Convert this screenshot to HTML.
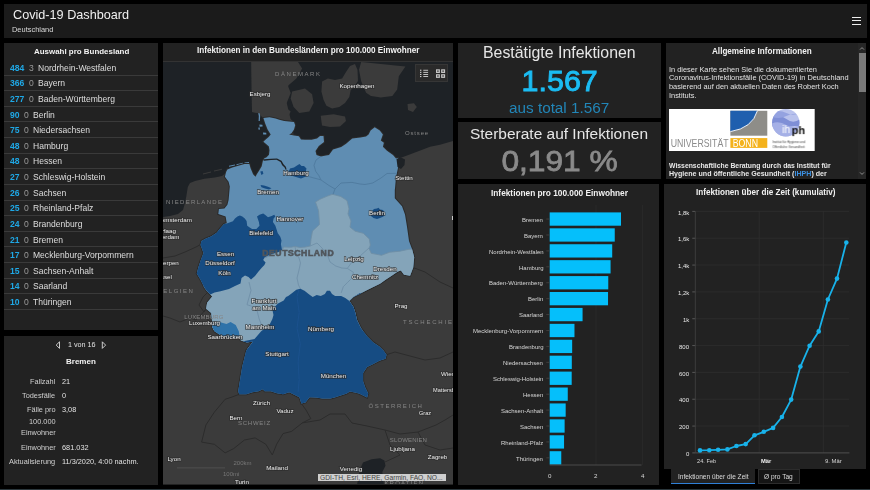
<!DOCTYPE html>
<html><head><meta charset="utf-8">
<style>
*{margin:0;padding:0;box-sizing:border-box}
html,body{width:870px;height:490px;overflow:hidden;background:#000;font-family:"Liberation Sans",Arial,sans-serif;color:#ddd;position:relative}
.p{position:absolute;background:#222}
svg{will-change:transform}
.t{position:absolute;white-space:nowrap;line-height:1;will-change:transform}
</style></head><body>
<div class="p" style="left:4px;top:4px;width:862.5px;height:33.8px;background:#1b1b1b"></div>
<div style="position:absolute;left:851.8px;top:16.6px;width:9.2px;height:1.25px;background:#eee"></div>
<div style="position:absolute;left:851.8px;top:20.2px;width:9.2px;height:1.25px;background:#eee"></div>
<div style="position:absolute;left:851.8px;top:23.9px;width:9.2px;height:1.25px;background:#eee"></div>
<div class="p" style="left:4px;top:43px;width:154px;height:287.4px"></div>
<div class="p" style="left:4px;top:335.5px;width:154px;height:149.5px"></div>
<div class="p" style="left:163px;top:43px;width:290.3px;height:441.5px"></div>
<div style="position:absolute;left:163px;top:61px;width:290.3px;height:1px;background:#333"></div>
<div class="p" style="left:458px;top:43px;width:203px;height:74.6px"></div>
<div class="p" style="left:458px;top:122px;width:203px;height:56.5px"></div>
<div class="p" style="left:666px;top:43px;width:200px;height:135.5px"></div>
<div class="p" style="left:458px;top:184px;width:201px;height:300.7px"></div>
<div class="p" style="left:664px;top:184px;width:202px;height:285.3px"></div>
<svg id="mapsvg" width="290" height="422" viewBox="163 62 290 422" style="position:absolute;left:163px;top:62px">
<defs><clipPath id="de"><polygon points="263.4,117.9 269.5,117.2 275.6,118.5 279.3,119.7 284.2,120.9 289.1,121.5 294.0,122.1 295.2,125.2 294.0,129.5 291.5,133.2 289.1,134.4 294.0,135.6 298.9,136.2 301.0,139.5 305.0,139.8 311.6,139.8 317.0,138.5 320.0,136.0 323.5,136.0 324.0,142.0 318.8,145.9 315.5,151.0 316.5,155.0 320.8,156.5 326.0,155.5 329.0,155.0 333.0,149.5 341.2,147.0 346.1,143.7 352.2,138.6 360.4,137.6 366.0,136.5 368.6,134.5 370.6,130.4 374.7,127.3 379.8,130.4 382.9,134.5 380.8,140.6 383.9,142.7 382.9,146.7 387.0,150.8 393.0,154.9 396.0,158.5 398.2,158.0 398.2,167.0 396.0,177.3 395.1,187.6 394.8,190.0 394.8,198.2 402.0,206.3 405.0,214.5 407.0,226.7 409.0,241.0 412.1,249.2 414.2,257.3 413.2,267.6 410.1,275.7 404.0,274.7 400.9,270.6 397.9,271.6 391.7,275.7 385.6,279.8 380.0,283.7 375.9,285.7 371.8,287.8 365.7,290.8 359.6,293.9 353.5,296.9 349.4,301.0 353.5,307.1 355.5,313.3 357.0,320.0 361.0,328.2 367.1,336.3 373.3,342.4 379.4,346.5 383.5,350.6 386.5,354.7 385.5,358.8 379.4,360.8 373.3,363.9 367.1,366.9 363.1,373.1 363.1,381.2 365.1,387.3 368.2,393.5 367.1,397.6 363.1,395.5 359.0,393.5 354.9,392.4 349.8,391.4 346.7,393.5 340.6,395.5 334.5,397.6 330.4,398.6 322.2,398.6 316.1,397.6 309.6,397.3 305.5,402.4 301.4,403.5 299.4,397.3 295.3,395.3 289.2,392.2 283.1,394.3 276.9,393.3 270.8,391.2 264.7,391.2 262.7,389.2 258.6,391.2 252.4,392.2 246.3,394.3 239.2,394.3 238.2,391.2 240.2,379.0 242.2,366.7 244.3,358.6 246.3,350.4 252.4,342.2 254.5,339.0 253.1,341.4 246.9,342.4 240.8,340.4 239.8,337.3 234.7,338.4 226.5,337.3 220.4,335.3 214.3,331.2 212.2,327.1 212.2,323.0 211.2,312.9 206.1,308.8 207.1,302.7 212.2,296.5 210.4,294.5 206.5,290.5 204.5,287.8 200.4,279.6 196.8,273.5 198.4,267.3 200.4,261.2 203.5,253.1 200.6,245.0 201.4,241.0 206.0,238.5 211.0,236.5 216.7,232.7 220.5,228.0 224.0,224.0 226.8,223.2 225.6,216.4 218.3,214.0 218.9,209.1 224.4,208.5 227.4,204.8 228.6,200.0 229.8,186.6 228.6,181.7 224.9,176.8 226.1,171.9 227.4,169.4 232.3,167.6 238.4,165.7 244.5,163.9 249.4,163.9 250.6,168.2 253.1,174.3 255.5,176.8 256.8,174.3 259.2,170.6 261.7,166.3 262.9,160.8 264.1,158.4 266.6,157.2 269.0,154.7 269.5,150.3 268.9,146.6 266.4,144.2 263.4,141.7 264.6,140.5 268.9,136.8 270.7,134.4 267.6,129.5 265.2,123.4"/></clipPath></defs>
<rect x="163" y="62" width="290" height="422" fill="#3b3b3b"/>
<polygon points="163.0,62.0 251.4,62.0 252.0,112.0 258.0,113.0 263.4,117.9 265.2,123.4 267.6,129.5 270.7,134.4 268.9,136.8 264.6,140.5 263.4,141.7 266.4,144.2 268.9,146.6 269.5,150.3 269.0,154.7 266.6,157.2 264.1,158.4 262.9,160.8 261.7,166.3 259.2,170.6 256.8,174.3 255.5,176.8 253.1,174.3 250.6,168.2 249.4,163.9 244.5,163.9 238.4,165.7 232.3,167.6 227.4,169.4 226.5,172.5 222.0,176.0 214.8,177.6 204.4,178.7 195.0,181.0 190.0,183.0 187.8,187.0 187.0,192.0 186.3,196.5 185.0,203.0 183.0,210.0 178.0,214.0 170.0,216.0 163.0,217.0" fill="#1e2226"/>
<polygon points="292.0,62.0 453.0,62.0 453.0,141.0 440.0,144.7 430.0,146.7 421.6,150.0 411.0,154.0 403.0,157.0 398.2,158.5 390.0,175.0 300.0,175.0 292.0,125.0 286.0,100.0" fill="#1e2226"/>
<polygon points="357.0,485.0 359.8,470.0 363.0,462.5 371.6,459.3 380.1,458.2 384.4,460.4 385.5,465.7 382.3,472.1 384.0,485.0" fill="#1e2226"/>
<polygon points="251.4,62.0 298.0,62.0 302.1,68.6 296.4,78.6 287.9,85.7 290.7,92.9 287.9,100.0 285.0,107.1 290.7,111.4 288.0,117.0 294.0,122.1 263.4,117.9 258.0,113.0 252.0,112.0" fill="#3b3b3b"/>
<polygon points="292.1,91.4 305.0,88.6 312.1,94.3 313.6,102.9 309.3,111.4 299.3,112.9 293.6,107.1 290.7,98.6" fill="#3b3b3b"/>
<polygon points="321.4,91.4 322.1,81.4 327.9,78.6 335.0,80.0 342.1,78.6 346.0,72.0 350.0,66.0 355.0,64.0 357.5,70.0 358.0,81.0 353.0,88.0 350.7,90.0 349.3,97.1 345.0,102.9 339.3,107.1 332.1,108.6 326.4,105.7 323.6,100.0" fill="#3b3b3b"/>
<polygon points="320.7,115.7 333.6,114.3 345.0,116.5 346.0,121.0 340.0,126.5 330.0,127.0 322.0,125.5" fill="#3b3b3b"/>
<polygon points="361.2,62.0 405.4,66.5 398.8,76.3 397.2,89.4 392.3,95.9 380.8,97.6 371.0,95.9 366.1,92.7 361.2,81.2 359.0,69.8" fill="#3b3b3b"/>
<polygon points="407.5,104.0 414.0,103.3 416.8,107.0 413.0,112.0 408.0,110.0" fill="#3b3b3b"/>
<polygon points="258.2,113.2 259.6,113.2 260.2,116.0 259.8,121.0 258.6,121.0 258.8,116.0" fill="#5f8db2"/>
<polygon points="259.4,124.6 262.4,124.8 262.6,126.6 259.6,126.8" fill="#5f8db2"/>
<polygon points="258.4,127.4 259.8,127.4 259.8,129.8 258.4,129.6" fill="#5f8db2"/>
<polygon points="263.0,132.6 266.2,132.8 266.4,134.6 263.2,134.6" fill="#5f8db2"/>
<polygon points="229.0,165.8 235.0,164.6 235.0,165.6 229.0,166.8" fill="#5f8db2"/>
<polygon points="236.5,164.2 243.0,162.8 243.0,163.8 236.5,165.2" fill="#5f8db2"/>
<polygon points="244.5,162.4 249.0,162.0 249.0,163.0 244.5,163.4" fill="#5f8db2"/>
<polygon points="214.0,170.6 222.0,168.8 222.0,169.8 214.0,171.6" fill="#3b3b3b"/>
<polygon points="203.0,173.5 211.0,171.5 211.0,172.5 203.0,174.5" fill="#3b3b3b"/>
<polyline points="163.0,258.0 175.0,256.0 185.0,252.0 196.0,247.0 201.5,244.0" fill="none" stroke="#2c2c2c" stroke-width="1"/>
<polyline points="208.0,292.0 203.0,297.0 199.0,305.0 204.0,312.0 206.1,308.8" fill="none" stroke="#2c2c2c" stroke-width="1"/>
<polyline points="206.0,309.0 200.0,316.0 196.0,320.0 190.0,318.0 180.0,322.0 170.0,318.0 163.0,316.0" fill="none" stroke="#2c2c2c" stroke-width="1"/>
<polyline points="212.2,323.0 208.0,320.0 204.0,315.0" fill="none" stroke="#2c2c2c" stroke-width="1"/>
<polyline points="239.2,394.3 232.0,397.0 225.1,399.3 214.4,412.1 205.9,425.0 201.6,442.1 214.4,444.3 225.1,452.9 233.7,448.6 244.4,440.0 255.1,437.9 265.9,444.3 272.3,455.0 276.6,444.3 283.0,433.6 291.6,431.4 302.3,422.9 310.8,418.6 306.0,410.0 301.4,403.5" fill="none" stroke="#2c2c2c" stroke-width="1"/>
<polyline points="302.3,422.9 320.0,420.0 330.0,414.0 345.0,414.0 352.0,423.0 367.0,426.0 385.0,430.0 400.0,434.0 418.0,432.0 436.0,425.0 445.0,420.0 453.0,415.0" fill="none" stroke="#2c2c2c" stroke-width="1"/>
<polyline points="385.0,430.0 390.0,445.0 400.0,455.0 385.0,462.0" fill="none" stroke="#2c2c2c" stroke-width="1"/>
<polyline points="418.0,432.0 425.0,445.0 440.0,450.0 453.0,448.0" fill="none" stroke="#2c2c2c" stroke-width="1"/>
<polyline points="386.5,354.7 395.0,352.0 410.0,356.0 425.0,360.0 440.0,358.0 453.0,352.0" fill="none" stroke="#2c2c2c" stroke-width="1"/>
<polyline points="413.2,267.6 425.0,272.0 440.0,282.0 453.0,288.0" fill="none" stroke="#2c2c2c" stroke-width="1"/>
<polygon points="263.4,117.9 269.5,117.2 275.6,118.5 279.3,119.7 284.2,120.9 289.1,121.5 294.0,122.1 295.2,125.2 294.0,129.5 291.5,133.2 289.1,134.4 294.0,135.6 298.9,136.2 301.0,139.5 305.0,139.8 311.6,139.8 317.0,138.5 320.0,136.0 323.5,136.0 324.0,142.0 318.8,145.9 315.5,151.0 316.5,155.0 320.8,156.5 326.0,155.5 329.0,155.0 333.0,149.5 341.2,147.0 346.1,143.7 352.2,138.6 360.4,137.6 366.0,136.5 368.6,134.5 370.6,130.4 374.7,127.3 379.8,130.4 382.9,134.5 380.8,140.6 383.9,142.7 382.9,146.7 387.0,150.8 393.0,154.9 396.0,158.5 398.2,158.0 398.2,167.0 396.0,177.3 395.1,187.6 394.8,190.0 394.8,198.2 402.0,206.3 405.0,214.5 407.0,226.7 409.0,241.0 412.1,249.2 414.2,257.3 413.2,267.6 410.1,275.7 404.0,274.7 400.9,270.6 397.9,271.6 391.7,275.7 385.6,279.8 380.0,283.7 375.9,285.7 371.8,287.8 365.7,290.8 359.6,293.9 353.5,296.9 349.4,301.0 353.5,307.1 355.5,313.3 357.0,320.0 361.0,328.2 367.1,336.3 373.3,342.4 379.4,346.5 383.5,350.6 386.5,354.7 385.5,358.8 379.4,360.8 373.3,363.9 367.1,366.9 363.1,373.1 363.1,381.2 365.1,387.3 368.2,393.5 367.1,397.6 363.1,395.5 359.0,393.5 354.9,392.4 349.8,391.4 346.7,393.5 340.6,395.5 334.5,397.6 330.4,398.6 322.2,398.6 316.1,397.6 309.6,397.3 305.5,402.4 301.4,403.5 299.4,397.3 295.3,395.3 289.2,392.2 283.1,394.3 276.9,393.3 270.8,391.2 264.7,391.2 262.7,389.2 258.6,391.2 252.4,392.2 246.3,394.3 239.2,394.3 238.2,391.2 240.2,379.0 242.2,366.7 244.3,358.6 246.3,350.4 252.4,342.2 254.5,339.0 253.1,341.4 246.9,342.4 240.8,340.4 239.8,337.3 234.7,338.4 226.5,337.3 220.4,335.3 214.3,331.2 212.2,327.1 212.2,323.0 211.2,312.9 206.1,308.8 207.1,302.7 212.2,296.5 210.4,294.5 206.5,290.5 204.5,287.8 200.4,279.6 196.8,273.5 198.4,267.3 200.4,261.2 203.5,253.1 200.6,245.0 201.4,241.0 206.0,238.5 211.0,236.5 216.7,232.7 220.5,228.0 224.0,224.0 226.8,223.2 225.6,216.4 218.3,214.0 218.9,209.1 224.4,208.5 227.4,204.8 228.6,200.0 229.8,186.6 228.6,181.7 224.9,176.8 226.1,171.9 227.4,169.4 232.3,167.6 238.4,165.7 244.5,163.9 249.4,163.9 250.6,168.2 253.1,174.3 255.5,176.8 256.8,174.3 259.2,170.6 261.7,166.3 262.9,160.8 264.1,158.4 266.6,157.2 269.0,154.7 269.5,150.3 268.9,146.6 266.4,144.2 263.4,141.7 264.6,140.5 268.9,136.8 270.7,134.4 267.6,129.5 265.2,123.4" fill="none" stroke="#2b2b2b" stroke-width="2"/>
<polygon points="263.4,117.9 269.5,117.2 275.6,118.5 279.3,119.7 284.2,120.9 289.1,121.5 294.0,122.1 295.2,125.2 294.0,129.5 291.5,133.2 289.1,134.4 294.0,135.6 298.9,136.2 301.0,139.5 305.0,139.8 311.6,139.8 317.0,138.5 320.0,136.0 323.5,136.0 324.0,142.0 318.8,145.9 315.5,151.0 316.5,155.0 320.8,156.5 326.0,155.5 329.0,155.0 333.0,149.5 341.2,147.0 346.1,143.7 352.2,138.6 360.4,137.6 366.0,136.5 368.6,134.5 370.6,130.4 374.7,127.3 379.8,130.4 382.9,134.5 380.8,140.6 383.9,142.7 382.9,146.7 387.0,150.8 393.0,154.9 396.0,158.5 398.2,158.0 398.2,167.0 396.0,177.3 395.1,187.6 394.8,190.0 394.8,198.2 402.0,206.3 405.0,214.5 407.0,226.7 409.0,241.0 412.1,249.2 414.2,257.3 413.2,267.6 410.1,275.7 404.0,274.7 400.9,270.6 397.9,271.6 391.7,275.7 385.6,279.8 380.0,283.7 375.9,285.7 371.8,287.8 365.7,290.8 359.6,293.9 353.5,296.9 349.4,301.0 353.5,307.1 355.5,313.3 357.0,320.0 361.0,328.2 367.1,336.3 373.3,342.4 379.4,346.5 383.5,350.6 386.5,354.7 385.5,358.8 379.4,360.8 373.3,363.9 367.1,366.9 363.1,373.1 363.1,381.2 365.1,387.3 368.2,393.5 367.1,397.6 363.1,395.5 359.0,393.5 354.9,392.4 349.8,391.4 346.7,393.5 340.6,395.5 334.5,397.6 330.4,398.6 322.2,398.6 316.1,397.6 309.6,397.3 305.5,402.4 301.4,403.5 299.4,397.3 295.3,395.3 289.2,392.2 283.1,394.3 276.9,393.3 270.8,391.2 264.7,391.2 262.7,389.2 258.6,391.2 252.4,392.2 246.3,394.3 239.2,394.3 238.2,391.2 240.2,379.0 242.2,366.7 244.3,358.6 246.3,350.4 252.4,342.2 254.5,339.0 253.1,341.4 246.9,342.4 240.8,340.4 239.8,337.3 234.7,338.4 226.5,337.3 220.4,335.3 214.3,331.2 212.2,327.1 212.2,323.0 211.2,312.9 206.1,308.8 207.1,302.7 212.2,296.5 210.4,294.5 206.5,290.5 204.5,287.8 200.4,279.6 196.8,273.5 198.4,267.3 200.4,261.2 203.5,253.1 200.6,245.0 201.4,241.0 206.0,238.5 211.0,236.5 216.7,232.7 220.5,228.0 224.0,224.0 226.8,223.2 225.6,216.4 218.3,214.0 218.9,209.1 224.4,208.5 227.4,204.8 228.6,200.0 229.8,186.6 228.6,181.7 224.9,176.8 226.1,171.9 227.4,169.4 232.3,167.6 238.4,165.7 244.5,163.9 249.4,163.9 250.6,168.2 253.1,174.3 255.5,176.8 256.8,174.3 259.2,170.6 261.7,166.3 262.9,160.8 264.1,158.4 266.6,157.2 269.0,154.7 269.5,150.3 268.9,146.6 266.4,144.2 263.4,141.7 264.6,140.5 268.9,136.8 270.7,134.4 267.6,129.5 265.2,123.4" fill="#5f8db2"/>
<g clip-path="url(#de)">
<polygon points="282.0,250.0 284.0,247.0 287.6,247.2 291.3,247.2 295.0,246.5 300.0,247.5 305.1,247.1 310.2,246.0 311.0,239.0 312.5,231.0 319.5,224.5 319.0,217.0 318.5,210.5 315.5,202.0 320.5,199.0 327.5,196.0 332.5,194.3 340.8,196.5 347.0,200.6 349.0,208.8 348.0,213.9 351.0,221.0 350.0,227.1 355.1,231.2 363.3,233.3 369.3,239.0 370.3,245.1 369.0,248.5 371.3,253.3 381.5,255.3 389.7,252.2 399.9,251.2 409.0,249.2 425.0,249.0 425.0,320.0 250.0,350.0 195.0,320.0 195.0,290.0" fill="#84a4b9" stroke="#6f8ea6" stroke-width="0.9"/>
<polyline points="295.0,246.5 296.0,252.0 299.0,258.0 300.5,263.0 299.0,270.0 297.0,278.0 298.5,285.0 300.4,288.8" fill="none" stroke="#7090a8" stroke-width="0.9"/>
<polyline points="249.0,282.0 251.0,290.4 247.0,304.7 253.1,306.7 257.1,310.8 259.2,319.0 261.2,324.1 262.2,329.2" fill="none" stroke="#7090a8" stroke-width="0.9"/>
<polyline points="310.2,246.0 317.0,243.0 322.0,248.0 327.5,255.0 330.0,262.0 335.7,266.0 341.8,268.0 347.3,268.4" fill="none" stroke="#7090a8" stroke-width="0.9"/>
<polyline points="369.0,248.0 360.0,256.0 352.0,262.0 347.3,268.4 353.5,272.4 351.4,278.6 347.3,282.7 343.3,286.7 341.2,292.9" fill="none" stroke="#7090a8" stroke-width="0.9"/>
<polygon points="190.0,223.5 226.8,223.5 232.9,221.3 235.0,218.5 237.4,216.6 239.9,215.4 242.3,216.6 244.8,218.5 246.6,220.9 247.2,225.8 249.7,227.6 252.1,228.9 256.4,228.9 259.5,225.8 258.9,222.1 257.0,216.6 259.5,214.8 263.2,213.6 265.0,214.8 268.0,217.2 271.7,216.0 274.2,214.8 275.4,216.6 273.6,218.5 272.9,222.1 275.4,225.8 276.6,229.5 277.8,233.2 280.3,236.8 281.5,240.5 280.9,244.2 282.0,250.0 278.5,252.0 274.5,253.0 270.5,254.5 266.8,256.0 264.4,257.6 263.2,260.1 265.6,262.5 264.4,265.0 261.5,268.0 258.5,271.5 255.0,276.0 251.0,279.5 248.5,277.0 245.0,275.5 241.5,278.0 240.5,283.5 235.0,286.0 229.0,289.0 220.5,291.2 214.5,292.5 210.4,294.5 190.0,300.0" fill="#164c83"/>
<polygon points="254.5,339.0 261.2,331.2 269.4,325.1 272.4,319.0 273.5,314.9 272.4,309.8 277.6,303.7 283.7,300.6 286.0,297.0 288.2,295.9 292.2,292.9 296.3,289.8 300.4,288.8 304.5,290.8 308.6,293.9 312.7,296.9 316.7,294.9 320.8,295.9 324.9,293.9 326.9,290.8 330.0,290.8 332.0,293.9 335.1,295.9 341.2,295.9 345.3,298.0 349.4,301.0 353.5,296.9 360.0,293.0 425.0,290.0 425.0,420.0 225.0,420.0 225.0,345.0" fill="#164c83"/>
<polyline points="299.0,289.5 297.0,296.7 299.2,312.5 297.0,328.2 300.3,343.9 298.1,361.9 299.2,379.9 298.1,392.0" fill="none" stroke="#1d5390" stroke-width="0.8"/>
<polygon points="212.2,323.0 219.4,322.0 226.5,324.0 230.6,322.0 235.7,325.1 238.8,331.2 239.8,337.3 234.7,338.4 226.5,337.3 220.4,335.3 214.3,331.2 212.2,327.1" fill="#2e72a9"/>
<polyline points="320.8,156.5 316.0,160.0 314.0,165.3 315.7,171.4 318.8,175.5 320.8,179.6" fill="none" stroke="#4f7b9e" stroke-width="0.9"/>
<polyline points="287.0,170.5 292.5,171.5" fill="none" stroke="#4f7b9e" stroke-width="0.9"/>
<polyline points="308.4,176.5 314.0,178.0 320.8,179.8 329.0,185.5 335.0,189.0 341.0,183.0 352.0,182.4 360.0,184.0 365.0,184.5 372.7,183.0 381.0,178.0 387.0,173.5 397.0,173.3" fill="none" stroke="#4f7b9e" stroke-width="0.9"/>
<polyline points="335.0,189.0 333.0,194.3" fill="none" stroke="#4f7b9e" stroke-width="0.9"/>
</g>
<polygon points="288.5,172.0 290.0,168.5 294.0,167.5 297.0,165.5 299.5,164.0 301.5,166.0 304.0,166.0 306.5,168.5 305.5,172.5 306.0,176.5 301.0,178.5 296.0,177.0 291.0,175.5" fill="#164c83"/>
<polygon points="260.5,185.0 264.0,185.6 268.0,186.8 271.5,188.3 269.0,189.5 265.0,188.6 261.5,187.2" fill="#164c83"/>
<polygon points="260.3,171.6 262.6,171.0 263.4,173.8 261.4,175.0" fill="#164c83"/>
<polygon points="371.0,212.0 374.0,209.0 377.0,208.5 378.5,207.8 380.0,209.5 383.0,210.0 384.7,213.0 383.5,216.5 380.0,218.0 377.0,219.0 373.5,218.0 371.0,216.0" fill="#164c83"/>
<polygon points="262.5,159.8 264.0,159.2 271.0,158.8 277.0,158.4 281.5,160.8 283.5,164.2 285.8,166.8 286.6,169.6 285.6,169.8 284.6,167.6 282.2,165.2 280.6,162.0 276.6,159.8 271.0,160.0 264.3,160.8" fill="#1e2226"/>
<polygon points="396.5,159.0 401.0,157.5 405.0,159.5 404.5,165.0 401.0,169.0 397.5,167.0" fill="#1e2226"/>
<line x1="177" y1="467.9" x2="225" y2="467.9" stroke="#555" stroke-width="0.8"/>
<text x="233.5" y="465" font-size="6" fill="#777" class="sc">200km</text>
<text x="223" y="476" font-size="6" fill="#777" class="sc">100mi</text>
<g font-family="Liberation Sans, Arial, sans-serif">
<text x="260" y="95.5" font-size="6.2" text-anchor="middle" fill="#ececec" stroke="#2c2c2c" stroke-width="1.6" paint-order="stroke" stroke-opacity="0.75">Esbjerg</text>
<text x="357" y="87.5" font-size="6.2" text-anchor="middle" fill="#ececec" stroke="#2c2c2c" stroke-width="1.6" paint-order="stroke" stroke-opacity="0.75">Kopenhagen</text>
<text x="296" y="174.5" font-size="6.2" text-anchor="middle" fill="#ececec" stroke="#2c2c2c" stroke-width="1.6" paint-order="stroke" stroke-opacity="0.75">Hamburg</text>
<text x="268" y="193.5" font-size="6.2" text-anchor="middle" fill="#ececec" stroke="#2c2c2c" stroke-width="1.6" paint-order="stroke" stroke-opacity="0.75">Bremen</text>
<text x="290" y="221" font-size="6.2" text-anchor="middle" fill="#ececec" stroke="#2c2c2c" stroke-width="1.6" paint-order="stroke" stroke-opacity="0.75">Hannover</text>
<text x="377" y="215" font-size="6.2" text-anchor="middle" fill="#ececec" stroke="#2c2c2c" stroke-width="1.6" paint-order="stroke" stroke-opacity="0.75">Berlin</text>
<text x="261" y="234.5" font-size="6.2" text-anchor="middle" fill="#ececec" stroke="#2c2c2c" stroke-width="1.6" paint-order="stroke" stroke-opacity="0.75">Bielefeld</text>
<text x="225.5" y="256" font-size="6.2" text-anchor="middle" fill="#ececec" stroke="#2c2c2c" stroke-width="1.6" paint-order="stroke" stroke-opacity="0.75">Essen</text>
<text x="220" y="265" font-size="6.2" text-anchor="middle" fill="#ececec" stroke="#2c2c2c" stroke-width="1.6" paint-order="stroke" stroke-opacity="0.75">Düsseldorf</text>
<text x="224.5" y="275" font-size="6.2" text-anchor="middle" fill="#ececec" stroke="#2c2c2c" stroke-width="1.6" paint-order="stroke" stroke-opacity="0.75">Köln</text>
<text x="354" y="260.5" font-size="6.2" text-anchor="middle" fill="#ececec" stroke="#2c2c2c" stroke-width="1.6" paint-order="stroke" stroke-opacity="0.75">Leipzig</text>
<text x="385" y="271" font-size="6.2" text-anchor="middle" fill="#ececec" stroke="#2c2c2c" stroke-width="1.6" paint-order="stroke" stroke-opacity="0.75">Dresden</text>
<text x="365" y="279" font-size="6.2" text-anchor="middle" fill="#ececec" stroke="#2c2c2c" stroke-width="1.6" paint-order="stroke" stroke-opacity="0.75">Chemnitz</text>
<text x="264" y="303" font-size="6.2" text-anchor="middle" fill="#ececec" stroke="#2c2c2c" stroke-width="1.6" paint-order="stroke" stroke-opacity="0.75">Frankfurt</text>
<text x="264" y="309.5" font-size="6.2" text-anchor="middle" fill="#ececec" stroke="#2c2c2c" stroke-width="1.6" paint-order="stroke" stroke-opacity="0.75">am Main</text>
<text x="260" y="329" font-size="6.2" text-anchor="middle" fill="#ececec" stroke="#2c2c2c" stroke-width="1.6" paint-order="stroke" stroke-opacity="0.75">Mannheim</text>
<text x="321" y="331" font-size="6.2" text-anchor="middle" fill="#ececec" stroke="#2c2c2c" stroke-width="1.6" paint-order="stroke" stroke-opacity="0.75">Nürnberg</text>
<text x="277" y="355.5" font-size="6.2" text-anchor="middle" fill="#ececec" stroke="#2c2c2c" stroke-width="1.6" paint-order="stroke" stroke-opacity="0.75">Stuttgart</text>
<text x="333.5" y="377.5" font-size="6.2" text-anchor="middle" fill="#ececec" stroke="#2c2c2c" stroke-width="1.6" paint-order="stroke" stroke-opacity="0.75">München</text>
<text x="404" y="179.5" font-size="6.2" text-anchor="middle" fill="#ececec" stroke="#2c2c2c" stroke-width="1.6" paint-order="stroke" stroke-opacity="0.75">Stettin</text>
<text x="401" y="308" font-size="6.2" text-anchor="middle" fill="#ececec" stroke="#2c2c2c" stroke-width="1.6" paint-order="stroke" stroke-opacity="0.75">Prag</text>
<text x="204.5" y="325" font-size="6.2" text-anchor="middle" fill="#ececec" stroke="#2c2c2c" stroke-width="1.6" paint-order="stroke" stroke-opacity="0.75">Luxemburg</text>
<text x="225" y="339" font-size="6.2" text-anchor="middle" fill="#ececec" stroke="#2c2c2c" stroke-width="1.6" paint-order="stroke" stroke-opacity="0.75">Saarbrücken</text>
<text x="261.5" y="404.5" font-size="6.2" text-anchor="middle" fill="#ececec" stroke="#2c2c2c" stroke-width="1.6" paint-order="stroke" stroke-opacity="0.75">Zürich</text>
<text x="285" y="413" font-size="6.2" text-anchor="middle" fill="#ececec" stroke="#2c2c2c" stroke-width="1.6" paint-order="stroke" stroke-opacity="0.75">Vaduz</text>
<text x="236" y="419.5" font-size="6.2" text-anchor="middle" fill="#ececec" stroke="#2c2c2c" stroke-width="1.6" paint-order="stroke" stroke-opacity="0.75">Bern</text>
<text x="174" y="461" font-size="6.2" text-anchor="middle" fill="#ececec" stroke="#2c2c2c" stroke-width="1.6" paint-order="stroke" stroke-opacity="0.75">Lyon</text>
<text x="277" y="470" font-size="6.2" text-anchor="middle" fill="#ececec" stroke="#2c2c2c" stroke-width="1.6" paint-order="stroke" stroke-opacity="0.75">Mailand</text>
<text x="242" y="484" font-size="6.2" text-anchor="middle" fill="#ececec" stroke="#2c2c2c" stroke-width="1.6" paint-order="stroke" stroke-opacity="0.75">Turin</text>
<text x="351" y="471" font-size="6.2" text-anchor="middle" fill="#ececec" stroke="#2c2c2c" stroke-width="1.6" paint-order="stroke" stroke-opacity="0.75">Venedig</text>
<text x="402.5" y="450.5" font-size="6.2" text-anchor="middle" fill="#ececec" stroke="#2c2c2c" stroke-width="1.6" paint-order="stroke" stroke-opacity="0.75">Ljubljana</text>
<text x="437.5" y="459" font-size="6.2" text-anchor="middle" fill="#ececec" stroke="#2c2c2c" stroke-width="1.6" paint-order="stroke" stroke-opacity="0.75">Zagreb</text>
<text x="425" y="415" font-size="5.6" text-anchor="middle" fill="#ececec" stroke="#2c2c2c" stroke-width="1.6" paint-order="stroke" stroke-opacity="0.75">Graz</text>
<text x="448" y="376" font-size="6.2" text-anchor="middle" fill="#ececec" stroke="#2c2c2c" stroke-width="1.6" paint-order="stroke" stroke-opacity="0.75">Wien</text>
<text x="448" y="391.5" font-size="5.6" text-anchor="middle" fill="#ececec" stroke="#2c2c2c" stroke-width="1.6" paint-order="stroke" stroke-opacity="0.75">Mattersburg</text>
<text x="176" y="222" font-size="6.2" text-anchor="middle" fill="#ececec" stroke="#2c2c2c" stroke-width="1.6" paint-order="stroke" stroke-opacity="0.75">Amsterdam</text>
<text x="162" y="232.5" font-size="6.2" text-anchor="middle" fill="#ececec" stroke="#2c2c2c" stroke-width="1.6" paint-order="stroke" stroke-opacity="0.75">Den Haag</text>
<text x="165" y="238.5" font-size="6.2" text-anchor="middle" fill="#ececec" stroke="#2c2c2c" stroke-width="1.6" paint-order="stroke" stroke-opacity="0.75">Rotterdam</text>
<text x="164" y="264.5" font-size="6.2" text-anchor="middle" fill="#ececec" stroke="#2c2c2c" stroke-width="1.6" paint-order="stroke" stroke-opacity="0.75">Antwerpen</text>
<text x="161.5" y="279" font-size="6.2" text-anchor="middle" fill="#ececec" stroke="#2c2c2c" stroke-width="1.6" paint-order="stroke" stroke-opacity="0.75">Brüssel</text>
<text x="275" y="75.6" font-size="6" fill="#858585" textLength="45" lengthAdjust="spacing">DÄNEMARK</text>
<text x="404.9" y="134.6" font-size="6" fill="#858585" textLength="23.3" lengthAdjust="spacing">Ostsee</text>
<text x="166" y="203.5" font-size="6" fill="#858585" textLength="56" lengthAdjust="spacing">NIEDERLANDE</text>
<text x="157.8" y="293.2" font-size="6" fill="#858585" textLength="35" lengthAdjust="spacing">BELGIEN</text>
<text x="184.2" y="318.8" font-size="6" fill="#858585" textLength="39.2" lengthAdjust="spacing">LUXEMBURG</text>
<text x="403" y="324.2" font-size="6" fill="#858585" textLength="55" lengthAdjust="spacing">TSCHECHIEN</text>
<text x="368.4" y="408.3" font-size="6" fill="#858585" textLength="53.5" lengthAdjust="spacing">ÖSTERREICH</text>
<text x="238" y="425.1" font-size="6" fill="#858585" textLength="32.1" lengthAdjust="spacing">SCHWEIZ</text>
<text x="389.8" y="442.3" font-size="6" fill="#858585" textLength="37.1" lengthAdjust="spacing">SLOWENIEN</text>
<text x="384.4" y="485.2" font-size="6" fill="#858585" textLength="38.6" lengthAdjust="spacing">KROATIEN</text>
<text x="262.2" y="256" font-size="8.6" font-weight="bold" fill="#50565c" stroke="#50565c" stroke-width="0.6" textLength="71.4" lengthAdjust="spacing">DEUTSCHLAND</text>
</g>
</svg>
<!-- map widget -->
<div style="position:absolute;left:415.1px;top:64.1px;width:33.4px;height:18.4px;background:#2a2a2a;border:0.6px solid #363636"></div>
<svg style="position:absolute;left:415px;top:63px" width="35" height="21" viewBox="415 63 35 21">
 <g fill="#d0d0d0">
  <rect x="420" y="69.7" width="1.4" height="1.1"/><rect x="423.3" y="69.8" width="4.8" height="0.9"/>
  <rect x="420" y="71.8" width="1.4" height="1.1"/><rect x="423.3" y="71.9" width="4.8" height="0.9"/>
  <rect x="420" y="73.9" width="1.4" height="1.1"/><rect x="423.3" y="74.0" width="4.8" height="0.9"/>
  <rect x="420" y="76.0" width="1.4" height="1.1"/><rect x="423.3" y="76.1" width="4.8" height="0.9"/>
 </g>
 <g fill="#c4c4c4">
  <rect x="436" y="69.3" width="3.9" height="3.7"/><rect x="441.1" y="69.3" width="4" height="3.7"/>
  <rect x="436" y="74.2" width="3.9" height="3.7"/><rect x="441.1" y="74.2" width="4" height="3.7"/>
 </g>
 <g fill="#444">
  <rect x="437" y="70.5" width="1.8" height="1.2"/><rect x="442.2" y="70.5" width="1.8" height="1.2"/>
  <rect x="437" y="75.4" width="1.8" height="1.2"/><rect x="442.2" y="75.4" width="1.8" height="1.2"/>
 </g>
</svg>
<div style="position:absolute;left:452.2px;top:215.5px;width:0.9px;height:4px;background:#ccc"></div>
<!-- attribution -->
<div style="position:absolute;left:318px;top:474.3px;width:127.5px;height:7px;background:#cfcfcf;color:#444;font-size:6.7px;line-height:7px;padding-left:2px;white-space:nowrap;overflow:hidden">GDI-TH, Esri, HERE, Garmin, FAO, NO...</div>
<!-- info panel scrollbar -->
<div style="position:absolute;left:858.3px;top:43px;width:7.7px;height:135.5px;background:#262626"></div>
<div style="position:absolute;left:858.8px;top:52.5px;width:6.8px;height:39px;background:#7a7a7a"></div>
<svg style="position:absolute;left:858px;top:43px" width="8" height="136" viewBox="858 43 8 136"><polyline points="860,49.6 862,47.6 864,49.6" fill="none" stroke="#aaa" stroke-width="0.8"/><polyline points="860,172.4 862,174.4 864,172.4" fill="none" stroke="#aaa" stroke-width="0.8"/></svg>
<!-- logo -->
<svg style="position:absolute;left:668.6px;top:108.9px" width="145.7" height="42.1" viewBox="668.6 108.9 145.7 42.1">
 <rect x="668.6" y="108.9" width="145.7" height="42.1" fill="#fff"/>
 <rect x="730" y="110.7" width="36.9" height="24.9" fill="#8e8d88"/>
 <path d="M730,110.7 H757 Q752,128 730,131.5 Z" fill="#1f5fae"/>
 <path d="M757,110.7 Q752,128 730,131.5" fill="none" stroke="#fff" stroke-width="0.9"/>
 <rect x="730" y="138" width="36.9" height="9.8" fill="#f4b21c"/>
 <text x="670.3" y="146.9" font-family="Liberation Sans, Arial, sans-serif" font-size="10.6" fill="#8b8b8b" textLength="57.9" lengthAdjust="spacingAndGlyphs">UNIVERSITÄT</text>
 <text x="732.3" y="146.7" font-family="Liberation Sans, Arial, sans-serif" font-size="10.4" fill="#fff" textLength="25.3" lengthAdjust="spacingAndGlyphs">BONN</text>
 <defs><clipPath id="cc"><circle cx="785.4" cy="122.6" r="13.7"/></clipPath></defs>
 <circle cx="785.4" cy="122.6" r="13.7" fill="#b9c2ec"/>
 <g clip-path="url(#cc)">
  <path d="M770,118 Q778,113 786,119 T802,117 V128 Q794,124 786,128 T770,126 Z" fill="#7f8fd6"/>
  <path d="M770,124 Q778,120 786,125 T802,123 V140 H770 Z" fill="#a5b0e6"/>
  <path d="M770,113 Q778,109 786,113 T802,111 V115 Q794,112 786,116 T770,116 Z" fill="#94a2e0"/>
 </g>
 <text x="781.8" y="133.5" font-family="Liberation Sans, Arial, sans-serif" font-size="10.5" fill="#fff">ih</text>
 <text x="791.2" y="134" font-family="Liberation Sans, Arial, sans-serif" font-size="11" font-weight="bold" fill="#111">ph</text>
 <text x="771.9" y="143.4" font-family="Liberation Sans, Arial, sans-serif" font-size="3.2" fill="#444">Institut für Hygiene und</text>
 <text x="771.9" y="147.6" font-family="Liberation Sans, Arial, sans-serif" font-size="3.2" fill="#444">Öffentliche Gesundheit</text>
</svg>
<div class="t" style="left:12.50px;top:9.28px;font-size:12.67px;color:#f0f0f0;">Covid-19 Dashboard</div>
<div class="t" style="left:12.00px;top:26.30px;font-size:7.45px;color:#d8d8d8;">Deutschland</div>
<div class="t" style="left:33.65px;top:47.68px;font-size:7.94px;color:#f2f2f2;font-weight:bold;">Auswahl pro Bundesland</div>
<div style="position:absolute;left:4px;top:74.53px;width:154px;height:1px;background:#3a3a3a"></div>
<div class="t" style="left:10.00px;top:63.62px;font-size:8.60px;color:#1fa8e6;font-weight:bold;">484</div>
<div class="t" style="left:28.85px;top:63.66px;font-size:8.55px;color:#9a9a9a;">3</div>
<div class="t" style="left:38.20px;top:63.66px;font-size:8.55px;color:#dedede;">Nordrhein-Westfalen</div>
<div style="position:absolute;left:4px;top:90.16px;width:154px;height:1px;background:#3a3a3a"></div>
<div class="t" style="left:10.00px;top:79.25px;font-size:8.60px;color:#1fa8e6;font-weight:bold;">366</div>
<div class="t" style="left:28.85px;top:79.29px;font-size:8.55px;color:#9a9a9a;">0</div>
<div class="t" style="left:38.20px;top:79.29px;font-size:8.55px;color:#dedede;">Bayern</div>
<div style="position:absolute;left:4px;top:105.79px;width:154px;height:1px;background:#3a3a3a"></div>
<div class="t" style="left:10.00px;top:94.88px;font-size:8.60px;color:#1fa8e6;font-weight:bold;">277</div>
<div class="t" style="left:28.85px;top:94.92px;font-size:8.55px;color:#9a9a9a;">0</div>
<div class="t" style="left:38.20px;top:94.92px;font-size:8.55px;color:#dedede;">Baden-Württemberg</div>
<div style="position:absolute;left:4px;top:121.42px;width:154px;height:1px;background:#3a3a3a"></div>
<div class="t" style="left:10.00px;top:110.51px;font-size:8.60px;color:#1fa8e6;font-weight:bold;">90</div>
<div class="t" style="left:24.07px;top:110.55px;font-size:8.55px;color:#9a9a9a;">0</div>
<div class="t" style="left:33.42px;top:110.55px;font-size:8.55px;color:#dedede;">Berlin</div>
<div style="position:absolute;left:4px;top:137.05px;width:154px;height:1px;background:#3a3a3a"></div>
<div class="t" style="left:10.00px;top:126.14px;font-size:8.60px;color:#1fa8e6;font-weight:bold;">75</div>
<div class="t" style="left:24.07px;top:126.18px;font-size:8.55px;color:#9a9a9a;">0</div>
<div class="t" style="left:33.42px;top:126.18px;font-size:8.55px;color:#dedede;">Niedersachsen</div>
<div style="position:absolute;left:4px;top:152.68px;width:154px;height:1px;background:#3a3a3a"></div>
<div class="t" style="left:10.00px;top:141.77px;font-size:8.60px;color:#1fa8e6;font-weight:bold;">48</div>
<div class="t" style="left:24.07px;top:141.81px;font-size:8.55px;color:#9a9a9a;">0</div>
<div class="t" style="left:33.42px;top:141.81px;font-size:8.55px;color:#dedede;">Hamburg</div>
<div style="position:absolute;left:4px;top:168.31px;width:154px;height:1px;background:#3a3a3a"></div>
<div class="t" style="left:10.00px;top:157.40px;font-size:8.60px;color:#1fa8e6;font-weight:bold;">48</div>
<div class="t" style="left:24.07px;top:157.44px;font-size:8.55px;color:#9a9a9a;">0</div>
<div class="t" style="left:33.42px;top:157.44px;font-size:8.55px;color:#dedede;">Hessen</div>
<div style="position:absolute;left:4px;top:183.94px;width:154px;height:1px;background:#3a3a3a"></div>
<div class="t" style="left:10.00px;top:173.03px;font-size:8.60px;color:#1fa8e6;font-weight:bold;">27</div>
<div class="t" style="left:24.07px;top:173.07px;font-size:8.55px;color:#9a9a9a;">0</div>
<div class="t" style="left:33.42px;top:173.07px;font-size:8.55px;color:#dedede;">Schleswig-Holstein</div>
<div style="position:absolute;left:4px;top:199.57px;width:154px;height:1px;background:#3a3a3a"></div>
<div class="t" style="left:10.00px;top:188.66px;font-size:8.60px;color:#1fa8e6;font-weight:bold;">26</div>
<div class="t" style="left:24.07px;top:188.70px;font-size:8.55px;color:#9a9a9a;">0</div>
<div class="t" style="left:33.42px;top:188.70px;font-size:8.55px;color:#dedede;">Sachsen</div>
<div style="position:absolute;left:4px;top:215.20px;width:154px;height:1px;background:#3a3a3a"></div>
<div class="t" style="left:10.00px;top:204.29px;font-size:8.60px;color:#1fa8e6;font-weight:bold;">25</div>
<div class="t" style="left:24.07px;top:204.33px;font-size:8.55px;color:#9a9a9a;">0</div>
<div class="t" style="left:33.42px;top:204.33px;font-size:8.55px;color:#dedede;">Rheinland-Pfalz</div>
<div style="position:absolute;left:4px;top:230.83px;width:154px;height:1px;background:#3a3a3a"></div>
<div class="t" style="left:10.00px;top:219.92px;font-size:8.60px;color:#1fa8e6;font-weight:bold;">24</div>
<div class="t" style="left:24.07px;top:219.96px;font-size:8.55px;color:#9a9a9a;">0</div>
<div class="t" style="left:33.42px;top:219.96px;font-size:8.55px;color:#dedede;">Brandenburg</div>
<div style="position:absolute;left:4px;top:246.46px;width:154px;height:1px;background:#3a3a3a"></div>
<div class="t" style="left:10.00px;top:235.55px;font-size:8.60px;color:#1fa8e6;font-weight:bold;">21</div>
<div class="t" style="left:24.07px;top:235.59px;font-size:8.55px;color:#9a9a9a;">0</div>
<div class="t" style="left:33.42px;top:235.59px;font-size:8.55px;color:#dedede;">Bremen</div>
<div style="position:absolute;left:4px;top:262.09px;width:154px;height:1px;background:#3a3a3a"></div>
<div class="t" style="left:10.00px;top:251.18px;font-size:8.60px;color:#1fa8e6;font-weight:bold;">17</div>
<div class="t" style="left:24.07px;top:251.22px;font-size:8.55px;color:#9a9a9a;">0</div>
<div class="t" style="left:33.42px;top:251.22px;font-size:8.55px;color:#dedede;">Mecklenburg-Vorpommern</div>
<div style="position:absolute;left:4px;top:277.72px;width:154px;height:1px;background:#3a3a3a"></div>
<div class="t" style="left:10.00px;top:266.81px;font-size:8.60px;color:#1fa8e6;font-weight:bold;">15</div>
<div class="t" style="left:24.07px;top:266.85px;font-size:8.55px;color:#9a9a9a;">0</div>
<div class="t" style="left:33.42px;top:266.85px;font-size:8.55px;color:#dedede;">Sachsen-Anhalt</div>
<div style="position:absolute;left:4px;top:293.35px;width:154px;height:1px;background:#3a3a3a"></div>
<div class="t" style="left:10.00px;top:282.44px;font-size:8.60px;color:#1fa8e6;font-weight:bold;">14</div>
<div class="t" style="left:24.07px;top:282.48px;font-size:8.55px;color:#9a9a9a;">0</div>
<div class="t" style="left:33.42px;top:282.48px;font-size:8.55px;color:#dedede;">Saarland</div>
<div style="position:absolute;left:4px;top:308.98px;width:154px;height:1px;background:#3a3a3a"></div>
<div class="t" style="left:10.00px;top:298.07px;font-size:8.60px;color:#1fa8e6;font-weight:bold;">10</div>
<div class="t" style="left:24.07px;top:298.11px;font-size:8.55px;color:#9a9a9a;">0</div>
<div class="t" style="left:33.42px;top:298.11px;font-size:8.55px;color:#dedede;">Thüringen</div>
<svg style="position:absolute;left:55px;top:341px" width="52" height="8" viewBox="55 341 52 8"><polygon points="59.5,341.8 56.2,345.1 59.5,348.4" fill="none" stroke="#ddd" stroke-width="0.9"/><polygon points="102.3,341.8 105.6,345.1 102.3,348.4" fill="none" stroke="#ddd" stroke-width="0.9"/></svg>
<div class="t" style="left:67.70px;top:341.31px;font-size:7.19px;color:#e0e0e0;">1 von 16</div>
<div class="t" style="left:66.20px;top:357.63px;font-size:8.00px;color:#f2f2f2;font-weight:bold;">Bremen</div>
<div class="t" style="left:29.97px;top:377.88px;font-size:7.35px;color:#d0d0d0;">Fallzahl</div>
<div class="t" style="left:61.60px;top:377.88px;font-size:7.35px;color:#e0e0e0;">21</div>
<div class="t" style="left:22.20px;top:392.18px;font-size:7.35px;color:#d0d0d0;">Todesfälle</div>
<div class="t" style="left:61.60px;top:392.18px;font-size:7.35px;color:#e0e0e0;">0</div>
<div class="t" style="left:26.70px;top:406.48px;font-size:7.35px;color:#d0d0d0;">Fälle pro</div>
<div class="t" style="left:61.60px;top:406.48px;font-size:7.35px;color:#e0e0e0;">3,08</div>
<div class="t" style="left:28.73px;top:417.58px;font-size:7.35px;color:#d0d0d0;">100.000</div>
<div class="t" style="left:20.57px;top:428.58px;font-size:7.35px;color:#d0d0d0;">Einwohner</div>
<div class="t" style="left:20.57px;top:443.68px;font-size:7.35px;color:#d0d0d0;">Einwohner</div>
<div class="t" style="left:61.60px;top:443.68px;font-size:7.35px;color:#e0e0e0;">681.032</div>
<div class="t" style="left:9.13px;top:457.68px;font-size:7.35px;color:#d0d0d0;">Aktualisierung</div>
<div class="t" style="left:61.60px;top:457.68px;font-size:7.35px;color:#e0e0e0;">11/3/2020, 4:00 nachm.</div>
<div class="t" style="left:196.50px;top:47.48px;font-size:8.17px;color:#f2f2f2;font-weight:bold;">Infektionen in den Bundesländern pro 100.000 Einwohner</div>
<div class="t" style="left:483.10px;top:45.35px;font-size:15.89px;color:#e6e6e6;">Bestätigte Infektionen</div>
<div class="t" style="left:522.50px;top:66.47px;font-size:29.33px;color:#1bbcf3;transform:scaleX(1.0382);transform-origin:50% 50%;-webkit-text-stroke:0.9px #1bbcf3;">1.567</div>
<div class="t" style="left:508.75px;top:99.86px;font-size:15.29px;color:#2286b8;">aus total 1.567</div>
<div class="t" style="left:470.30px;top:125.69px;font-size:15.48px;color:#e6e6e6;">Sterberate auf Infektionen</div>
<div class="t" style="left:504.39px;top:145.74px;font-size:30.31px;color:#8a8a8a;transform:scaleX(1.0467);transform-origin:50% 50%;-webkit-text-stroke:0.8px #8a8a8a;">0,191 %</div>
<div class="t" style="left:712.00px;top:47.51px;font-size:8.14px;color:#f2f2f2;font-weight:bold;">Allgemeine Informationen</div>
<div class="t" style="left:669.10px;top:65.53px;font-size:7.40px;color:#e2e2e2;">In dieser Karte sehen Sie die dokumentierten</div>
<div class="t" style="left:669.10px;top:74.38px;font-size:7.40px;color:#e2e2e2;">Coronavirus-Infektionsfälle (COVID-19) in Deutschland</div>
<div class="t" style="left:669.10px;top:83.23px;font-size:7.40px;color:#e2e2e2;">basierend auf den aktuellen Daten des Robert Koch</div>
<div class="t" style="left:669.10px;top:92.08px;font-size:7.40px;color:#e2e2e2;">Instituts.</div>
<div class="t" style="left:669.10px;top:163.01px;font-size:6.84px;color:#e8e8e8;font-weight:bold;">Wissenschaftliche Beratung durch das Institut für</div>
<div class="t" style="left:669.10px;top:171.40px;font-size:7.09px;color:#e8e8e8;font-weight:bold;">Hygiene und öffentliche Gesundheit (<span style="color:#3b8fe0">IHPH</span>) der</div>
<div class="t" style="left:490.50px;top:188.97px;font-size:8.30px;color:#f2f2f2;font-weight:bold;">Infektionen pro 100.000 Einwohner</div>
<svg style="position:absolute;left:0;top:0" width="870" height="490" viewBox="0 0 870 490">
<line x1="596.0" y1="205" x2="596.0" y2="465" stroke="#2b2b2b" stroke-width="0.9"/>
<line x1="642.3" y1="205" x2="642.3" y2="465" stroke="#2b2b2b" stroke-width="0.9"/>
<rect x="549.7" y="212.40" width="71.30" height="13.3" fill="#05bffb"/>
<line x1="546.3" y1="219.05" x2="549.7" y2="219.05" stroke="#4a4a4a" stroke-width="0.7"/>
<rect x="549.7" y="228.32" width="65.05" height="13.3" fill="#05bffb"/>
<line x1="546.3" y1="234.97" x2="549.7" y2="234.97" stroke="#4a4a4a" stroke-width="0.7"/>
<rect x="549.7" y="244.24" width="62.51" height="13.3" fill="#05bffb"/>
<line x1="546.3" y1="250.89" x2="549.7" y2="250.89" stroke="#4a4a4a" stroke-width="0.7"/>
<rect x="549.7" y="260.16" width="60.88" height="13.3" fill="#05bffb"/>
<line x1="546.3" y1="266.81" x2="549.7" y2="266.81" stroke="#4a4a4a" stroke-width="0.7"/>
<rect x="549.7" y="276.08" width="58.57" height="13.3" fill="#05bffb"/>
<line x1="546.3" y1="282.73" x2="549.7" y2="282.73" stroke="#4a4a4a" stroke-width="0.7"/>
<rect x="549.7" y="292.00" width="58.34" height="13.3" fill="#05bffb"/>
<line x1="546.3" y1="298.65" x2="549.7" y2="298.65" stroke="#4a4a4a" stroke-width="0.7"/>
<rect x="549.7" y="307.92" width="32.87" height="13.3" fill="#05bffb"/>
<line x1="546.3" y1="314.57" x2="549.7" y2="314.57" stroke="#4a4a4a" stroke-width="0.7"/>
<rect x="549.7" y="323.84" width="24.77" height="13.3" fill="#05bffb"/>
<line x1="546.3" y1="330.49" x2="549.7" y2="330.49" stroke="#4a4a4a" stroke-width="0.7"/>
<rect x="549.7" y="339.76" width="22.46" height="13.3" fill="#05bffb"/>
<line x1="546.3" y1="346.41" x2="549.7" y2="346.41" stroke="#4a4a4a" stroke-width="0.7"/>
<rect x="549.7" y="355.68" width="22.11" height="13.3" fill="#05bffb"/>
<line x1="546.3" y1="362.33" x2="549.7" y2="362.33" stroke="#4a4a4a" stroke-width="0.7"/>
<rect x="549.7" y="371.60" width="21.99" height="13.3" fill="#05bffb"/>
<line x1="546.3" y1="378.25" x2="549.7" y2="378.25" stroke="#4a4a4a" stroke-width="0.7"/>
<rect x="549.7" y="387.52" width="18.06" height="13.3" fill="#05bffb"/>
<line x1="546.3" y1="394.17" x2="549.7" y2="394.17" stroke="#4a4a4a" stroke-width="0.7"/>
<rect x="549.7" y="403.44" width="15.97" height="13.3" fill="#05bffb"/>
<line x1="546.3" y1="410.09" x2="549.7" y2="410.09" stroke="#4a4a4a" stroke-width="0.7"/>
<rect x="549.7" y="419.36" width="14.93" height="13.3" fill="#05bffb"/>
<line x1="546.3" y1="426.01" x2="549.7" y2="426.01" stroke="#4a4a4a" stroke-width="0.7"/>
<rect x="549.7" y="435.28" width="14.35" height="13.3" fill="#05bffb"/>
<line x1="546.3" y1="441.93" x2="549.7" y2="441.93" stroke="#4a4a4a" stroke-width="0.7"/>
<rect x="549.7" y="451.20" width="11.57" height="13.3" fill="#05bffb"/>
<line x1="546.3" y1="457.85" x2="549.7" y2="457.85" stroke="#4a4a4a" stroke-width="0.7"/>
<line x1="549.7" y1="465" x2="641.5" y2="465" stroke="#555" stroke-width="0.8"/>
</svg>
<div class="t" style="left:522.31px;top:217.80px;font-size:5.97px;color:#d6d6d6;">Bremen</div>
<div class="t" style="left:524.30px;top:233.72px;font-size:5.97px;color:#d6d6d6;">Bayern</div>
<div class="t" style="left:488.60px;top:249.64px;font-size:5.97px;color:#d6d6d6;">Nordrhein-Westfalen</div>
<div class="t" style="left:518.66px;top:265.56px;font-size:5.97px;color:#d6d6d6;">Hamburg</div>
<div class="t" style="left:489.49px;top:281.48px;font-size:5.97px;color:#d6d6d6;">Baden-Württemberg</div>
<div class="t" style="left:527.95px;top:297.40px;font-size:5.97px;color:#d6d6d6;">Berlin</div>
<div class="t" style="left:519.32px;top:313.32px;font-size:5.97px;color:#d6d6d6;">Saarland</div>
<div class="t" style="left:472.91px;top:329.24px;font-size:5.97px;color:#d6d6d6;">Mecklenburg-Vorpommern</div>
<div class="t" style="left:508.70px;top:345.16px;font-size:5.97px;color:#d6d6d6;">Brandenburg</div>
<div class="t" style="left:503.41px;top:361.08px;font-size:5.97px;color:#d6d6d6;">Niedersachsen</div>
<div class="t" style="left:492.80px;top:377.00px;font-size:5.97px;color:#d6d6d6;">Schleswig-Holstein</div>
<div class="t" style="left:522.97px;top:392.92px;font-size:5.97px;color:#d6d6d6;">Hessen</div>
<div class="t" style="left:501.08px;top:408.84px;font-size:5.97px;color:#d6d6d6;">Sachsen-Anhalt</div>
<div class="t" style="left:519.98px;top:424.76px;font-size:5.97px;color:#d6d6d6;">Sachsen</div>
<div class="t" style="left:501.08px;top:440.68px;font-size:5.97px;color:#d6d6d6;">Rheinland-Pfalz</div>
<div class="t" style="left:516.34px;top:456.60px;font-size:5.97px;color:#d6d6d6;">Thüringen</div>
<div class="t" style="left:547.98px;top:472.65px;font-size:6.20px;color:#d6d6d6;">0</div>
<div class="t" style="left:594.28px;top:472.65px;font-size:6.20px;color:#d6d6d6;">2</div>
<div class="t" style="left:640.58px;top:472.65px;font-size:6.20px;color:#d6d6d6;">4</div>
<div class="t" style="left:695.80px;top:189.10px;font-size:8.15px;color:#f2f2f2;font-weight:bold;">Infektionen über die Zeit (kumulativ)</div>
<svg style="position:absolute;left:0;top:0" width="870" height="490" viewBox="0 0 870 490">
<line x1="695.3" y1="452.90" x2="849" y2="452.90" stroke="#2e2e2e" stroke-width="0.8"/>
<line x1="692.3" y1="452.90" x2="695.3" y2="452.90" stroke="#666" stroke-width="0.8"/>
<line x1="695.3" y1="426.07" x2="849" y2="426.07" stroke="#2e2e2e" stroke-width="0.8"/>
<line x1="692.3" y1="426.07" x2="695.3" y2="426.07" stroke="#666" stroke-width="0.8"/>
<line x1="695.3" y1="399.23" x2="849" y2="399.23" stroke="#2e2e2e" stroke-width="0.8"/>
<line x1="692.3" y1="399.23" x2="695.3" y2="399.23" stroke="#666" stroke-width="0.8"/>
<line x1="695.3" y1="372.40" x2="849" y2="372.40" stroke="#2e2e2e" stroke-width="0.8"/>
<line x1="692.3" y1="372.40" x2="695.3" y2="372.40" stroke="#666" stroke-width="0.8"/>
<line x1="695.3" y1="345.57" x2="849" y2="345.57" stroke="#2e2e2e" stroke-width="0.8"/>
<line x1="692.3" y1="345.57" x2="695.3" y2="345.57" stroke="#666" stroke-width="0.8"/>
<line x1="695.3" y1="318.73" x2="849" y2="318.73" stroke="#2e2e2e" stroke-width="0.8"/>
<line x1="692.3" y1="318.73" x2="695.3" y2="318.73" stroke="#666" stroke-width="0.8"/>
<line x1="695.3" y1="291.90" x2="849" y2="291.90" stroke="#2e2e2e" stroke-width="0.8"/>
<line x1="692.3" y1="291.90" x2="695.3" y2="291.90" stroke="#666" stroke-width="0.8"/>
<line x1="695.3" y1="265.07" x2="849" y2="265.07" stroke="#2e2e2e" stroke-width="0.8"/>
<line x1="692.3" y1="265.07" x2="695.3" y2="265.07" stroke="#666" stroke-width="0.8"/>
<line x1="695.3" y1="238.23" x2="849" y2="238.23" stroke="#2e2e2e" stroke-width="0.8"/>
<line x1="692.3" y1="238.23" x2="695.3" y2="238.23" stroke="#666" stroke-width="0.8"/>
<line x1="695.3" y1="211.40" x2="849" y2="211.40" stroke="#2e2e2e" stroke-width="0.8"/>
<line x1="692.3" y1="211.40" x2="695.3" y2="211.40" stroke="#666" stroke-width="0.8"/>
<line x1="759.2" y1="211.4" x2="759.2" y2="452.9" stroke="#2e2e2e" stroke-width="0.8"/>
<line x1="823.3" y1="211.4" x2="823.3" y2="452.9" stroke="#2e2e2e" stroke-width="0.8"/>
<line x1="695.3" y1="211.4" x2="695.3" y2="452.9" stroke="#444" stroke-width="0.8"/>
<line x1="695.3" y1="452.9" x2="849.5" y2="452.9" stroke="#555" stroke-width="0.8"/>
<polyline points="700.0,450.4 709.3,450.2 718.1,449.8 727.4,449.4 736.4,446.0 745.7,444.1 754.5,435.3 763.8,431.8 773.1,427.9 781.9,417.0 791.2,399.6 800.4,366.6 809.6,345.7 818.7,331.4 827.9,299.5 837.0,278.6 846.3,242.5" fill="none" stroke="#18b2ea" stroke-width="1.8" stroke-linejoin="round"/>
<circle cx="700" cy="450.4" r="2.3" fill="#18b2ea"/>
<circle cx="709.3" cy="450.2" r="2.3" fill="#18b2ea"/>
<circle cx="718.1" cy="449.8" r="2.3" fill="#18b2ea"/>
<circle cx="727.4" cy="449.4" r="2.3" fill="#18b2ea"/>
<circle cx="736.4" cy="446" r="2.3" fill="#18b2ea"/>
<circle cx="745.7" cy="444.1" r="2.3" fill="#18b2ea"/>
<circle cx="754.5" cy="435.3" r="2.3" fill="#18b2ea"/>
<circle cx="763.8" cy="431.8" r="2.3" fill="#18b2ea"/>
<circle cx="773.1" cy="427.9" r="2.3" fill="#18b2ea"/>
<circle cx="781.9" cy="417" r="2.3" fill="#18b2ea"/>
<circle cx="791.2" cy="399.6" r="2.3" fill="#18b2ea"/>
<circle cx="800.4" cy="366.6" r="2.3" fill="#18b2ea"/>
<circle cx="809.6" cy="345.7" r="2.3" fill="#18b2ea"/>
<circle cx="818.7" cy="331.4" r="2.3" fill="#18b2ea"/>
<circle cx="827.9" cy="299.5" r="2.3" fill="#18b2ea"/>
<circle cx="837" cy="278.6" r="2.3" fill="#18b2ea"/>
<circle cx="846.3" cy="242.5" r="2.3" fill="#18b2ea"/>
</svg>
<div class="t" style="left:678.16px;top:209.62px;font-size:6.00px;color:#e6e6e6;">1,8k</div>
<div class="t" style="left:678.16px;top:236.45px;font-size:6.00px;color:#e6e6e6;">1,6k</div>
<div class="t" style="left:678.16px;top:263.29px;font-size:6.00px;color:#e6e6e6;">1,4k</div>
<div class="t" style="left:678.16px;top:290.12px;font-size:6.00px;color:#e6e6e6;">1,2k</div>
<div class="t" style="left:683.16px;top:316.95px;font-size:6.00px;color:#e6e6e6;">1k</div>
<div class="t" style="left:679.49px;top:343.79px;font-size:6.00px;color:#e6e6e6;">800</div>
<div class="t" style="left:679.49px;top:370.62px;font-size:6.00px;color:#e6e6e6;">600</div>
<div class="t" style="left:679.49px;top:397.45px;font-size:6.00px;color:#e6e6e6;">400</div>
<div class="t" style="left:679.49px;top:424.29px;font-size:6.00px;color:#e6e6e6;">200</div>
<div class="t" style="left:686.16px;top:451.12px;font-size:6.00px;color:#e6e6e6;">0</div>
<div class="t" style="left:697.00px;top:459.11px;font-size:5.66px;color:#d6d6d6;">24. Feb</div>
<div class="t" style="left:761.00px;top:459.00px;font-size:5.79px;color:#f0f0f0;font-weight:bold;">Mär</div>
<div class="t" style="left:824.90px;top:458.91px;font-size:5.89px;color:#d6d6d6;">9. Mär</div>
<div style="position:absolute;left:671.2px;top:469.2px;width:83.5px;height:14.6px;background:#222;border-bottom:1.4px solid #2f7fd6"></div>
<div style="position:absolute;left:758.3px;top:469.2px;width:41.3px;height:14.4px;border:1px solid #2c2c2c;background:#151515"></div>
<div class="t" style="left:678.00px;top:473.82px;font-size:6.59px;color:#dcdcdc;">Infektionen über die Zeit</div>
<div class="t" style="left:764.30px;top:473.83px;font-size:6.59px;color:#dcdcdc;">Ø pro Tag</div>
<div style="position:absolute;left:0;top:489px;width:870px;height:1px;background:#2b373c"></div>
</body></html>
